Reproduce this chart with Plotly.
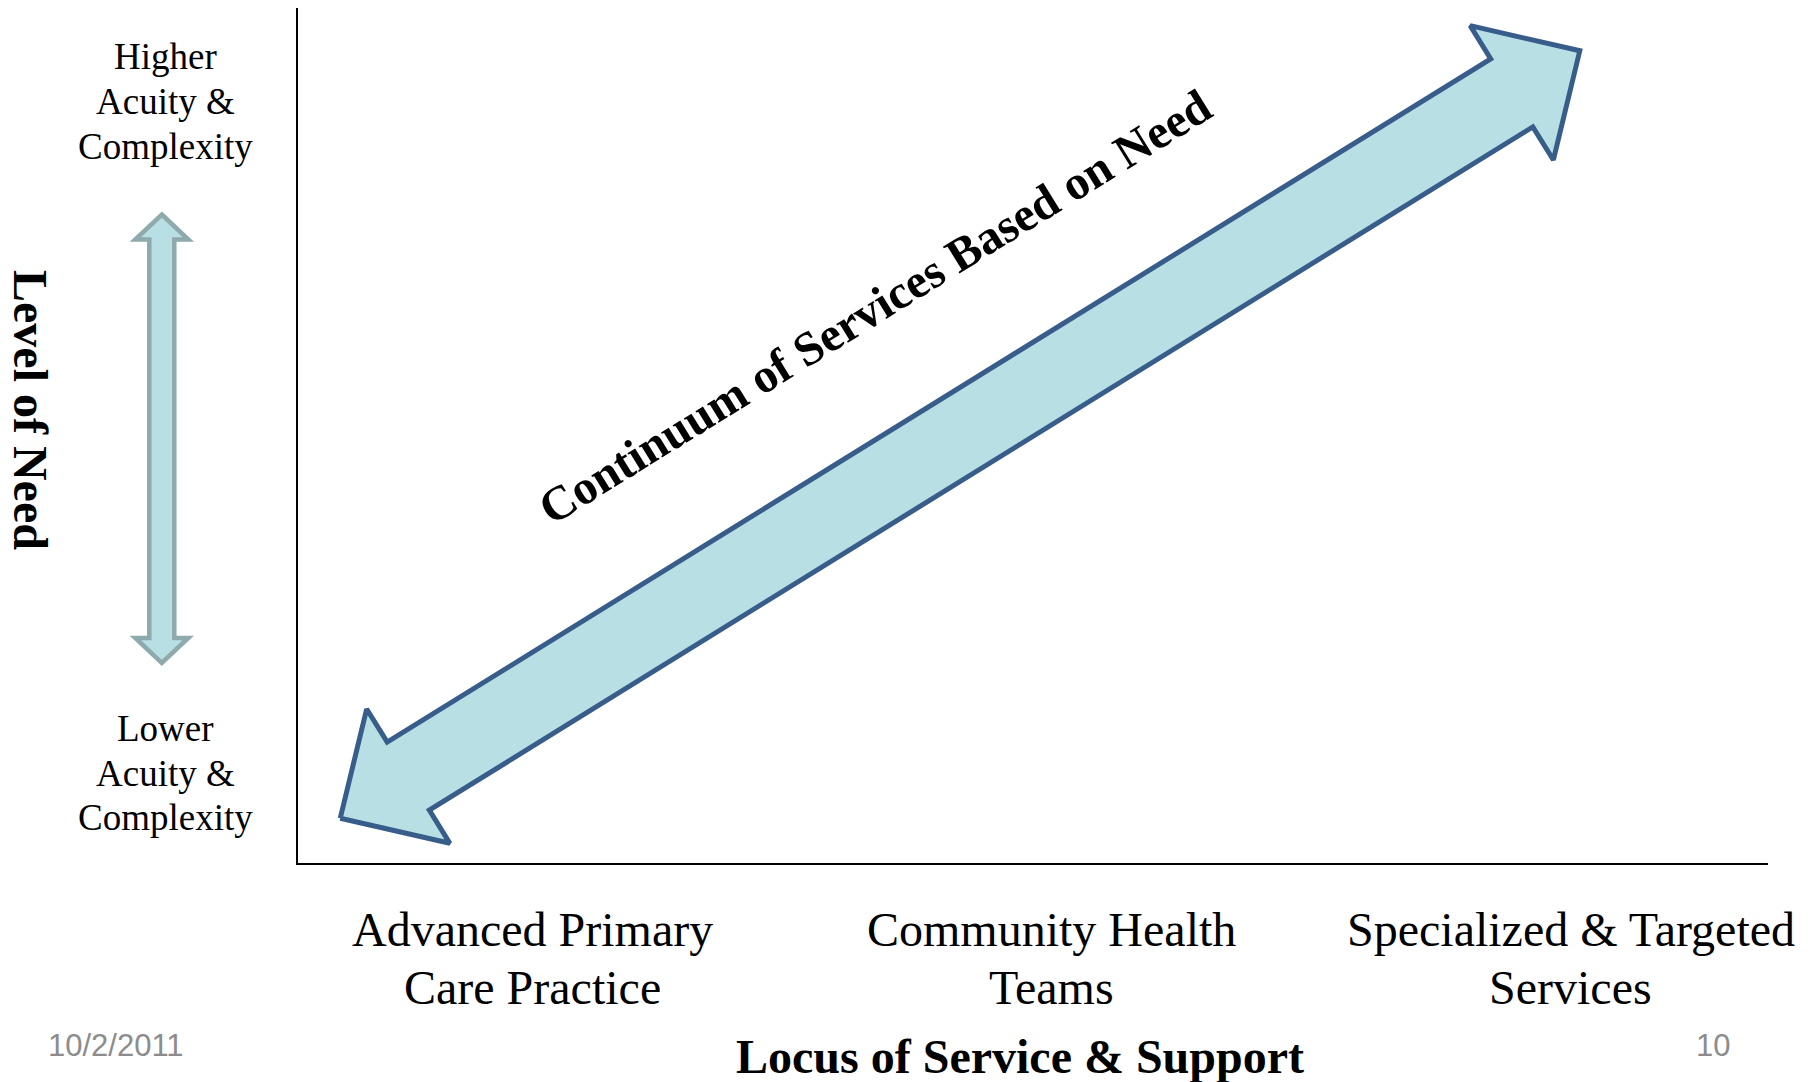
import math
import plotly.graph_objects as go

# ---- content ----
categories = ["Advanced Primary Care Practice", "Community Health Teams", "Specialized & Targeted Services"]
category_lines = [["Advanced Primary", "Care Practice"], ["Community Health", "Teams"], ["Specialized & Targeted", "Services"]]
need_levels = ["Lower Acuity & Complexity", "Higher Acuity & Complexity"]
need_lines = [["Lower", "Acuity &", "Complexity"], ["Higher", "Acuity &", "Complexity"]]
x_title = "Locus of Service & Support"
y_title = "Level of Need"
continuum_label = "Continuum of Services Based on Need"
# continuum arrow ends as (locus, need) fractions of the plotting area
continuum_start = (0.029, 0.052)
continuum_end = (0.872, 0.950)
footer_date = "10/2/2011"
page_number = "10"

# ---- page geometry / styles ----
W, H = 1816, 1082
PLOT_L, PLOT_R, PLOT_T, PLOT_B = 297.6, 1768.0, 8.0, 862.7
PLOT_W, PLOT_H = PLOT_R - PLOT_L, PLOT_B - PLOT_T
SERIF = "Liberation Serif, Times New Roman, serif"
SANS = "Liberation Sans, Arial, sans-serif"
FILL = "#B8DFE3"
EDGE = "#385D8A"
SMALL_EDGE = "#8EAAAD"
GREY = "#8C8C8C"

x_domain = [PLOT_L / W, PLOT_R / W]
y_domain = [1 - PLOT_B / H, 1 - PLOT_T / H]


def px(x):
    return x / W


def py(y):
    return 1 - y / H


# ---- double-headed continuum arrow, built in pixel space so the head stays square ----
def block_arrow(start, end, head_len, head_half, shaft_half):
    p1 = (start[0] * PLOT_W, start[1] * PLOT_H)
    p2 = (end[0] * PLOT_W, end[1] * PLOT_H)
    dx, dy = p2[0] - p1[0], p2[1] - p1[1]
    L = math.hypot(dx, dy)
    u = (dx / L, dy / L)
    n = (-u[1], u[0])

    def pt(base, a, b):
        return (base[0] + u[0] * a + n[0] * b, base[1] + u[1] * a + n[1] * b)

    pts = [
        p1,
        pt(p1, head_len, head_half),
        pt(p1, head_len, shaft_half),
        pt(p2, -head_len, shaft_half),
        pt(p2, -head_len, head_half),
        p2,
        pt(p2, -head_len, -head_half),
        pt(p2, -head_len, -shaft_half),
        pt(p1, head_len, -shaft_half),
        pt(p1, head_len, -head_half),
        p1,
    ]
    xs = [p[0] / PLOT_W for p in pts]
    ys = [p[1] / PLOT_H for p in pts]
    angle = math.degrees(math.atan2(dy, dx))
    return xs, ys, angle


arrow_x, arrow_y, arrow_angle = block_arrow(continuum_start, continuum_end, 80, 79, 40)

fig = go.Figure()
fig.add_trace(go.Scatter(
    x=arrow_x, y=arrow_y, xaxis="x2", yaxis="y2",
    mode="lines", fill="toself", fillcolor=FILL,
    line=dict(color=EDGE, width=5), hoverinfo="skip", showlegend=False,
))

# ---- small vertical double arrow beside the need labels ----
cx, top, bot = 161.8, 214.5, 663.0
hl, hh, sh = 25.0, 26.5, 12.5
small = [
    (cx, top), (cx + hh, top + hl), (cx + sh, top + hl), (cx + sh, bot - hl),
    (cx + hh, bot - hl), (cx, bot), (cx - hh, bot - hl), (cx - sh, bot - hl),
    (cx - sh, top + hl), (cx - hh, top + hl),
]
path = "M " + " L ".join(f"{px(a):.5f},{py(b):.5f}" for a, b in small) + " Z"
shapes = [dict(type="path", xref="paper", yref="paper", path=path,
               fillcolor=FILL, line=dict(color=SMALL_EDGE, width=4.5), layer="above")]

annotations = []
# need level labels, centred on their y positions, one line per annotation
NEED_LINE_GAP = 44.6
for i, lines in enumerate(need_lines):
    mid = (len(lines) - 1) / 2
    for k, line in enumerate(lines):
        annotations.append(dict(
            text=line, xref="paper", yref="y", x=px(165.5), y=i,
            yshift=(mid - k) * NEED_LINE_GAP,
            showarrow=False, xanchor="center", yanchor="middle",
            font=dict(family=SERIF, size=37, color="black"),
        ))
# category labels under the locus axis
CAT_LINE_Y = [929, 987]
for i, lines in enumerate(category_lines):
    for k, line in enumerate(lines):
        annotations.append(dict(
            text=line, xref="x", yref="paper", x=i, y=py(CAT_LINE_Y[k]),
            showarrow=False, xanchor="center", yanchor="middle",
            font=dict(family=SERIF, size=48, color="black"),
        ))
annotations += [
    dict(text=y_title, xref="paper", yref="paper", x=px(31), y=py(410),
         textangle=90, showarrow=False, xanchor="center", yanchor="middle",
         font=dict(family=SERIF, size=48, color="black", weight="bold")),
    dict(text=x_title, xref="paper", yref="paper", x=px(1020), y=py(1056),
         showarrow=False, xanchor="center", yanchor="middle",
         font=dict(family=SERIF, size=48, color="black", weight="bold")),
    dict(text=continuum_label, xref="paper", yref="paper", x=px(875), y=py(307),
         textangle=-arrow_angle, showarrow=False, xanchor="center", yanchor="middle",
         font=dict(family=SERIF, size=48, color="black", weight="bold")),
    dict(text=footer_date, xref="paper", yref="paper", x=px(46), y=py(1045),
         showarrow=False, xanchor="left", yanchor="middle",
         font=dict(family=SANS, size=31, color=GREY)),
    dict(text=page_number, xref="paper", yref="paper", x=px(1713), y=py(1045),
         showarrow=False, xanchor="center", yanchor="middle",
         font=dict(family=SANS, size=31, color=GREY)),
]

fig.update_layout(
    width=W, height=H, autosize=False,
    margin=dict(l=0, r=0, t=0, b=0, autoexpand=False),
    paper_bgcolor="white", plot_bgcolor="white",
    showlegend=False,
    xaxis=dict(
        domain=x_domain, range=[-0.4526, 2.3805],
        tickmode="array", tickvals=list(range(len(categories))), ticktext=categories,
        showticklabels=False, ticks="",
        showline=True, linewidth=2, linecolor="black",
        showgrid=False, zeroline=False, fixedrange=True,
    ),
    yaxis=dict(
        domain=y_domain, range=[-0.1331, 1.1392],
        tickmode="array", tickvals=list(range(len(need_levels))), ticktext=need_levels,
        showticklabels=False, ticks="",
        showline=True, linewidth=2, linecolor="black",
        showgrid=False, zeroline=False, fixedrange=True,
    ),
    xaxis2=dict(domain=x_domain, range=[0, 1], overlaying="x", visible=False, fixedrange=True),
    yaxis2=dict(domain=y_domain, range=[0, 1], overlaying="y", visible=False, fixedrange=True),
    shapes=shapes,
    annotations=annotations,
)

fig.write_html("out.html", config={"responsive": False})
